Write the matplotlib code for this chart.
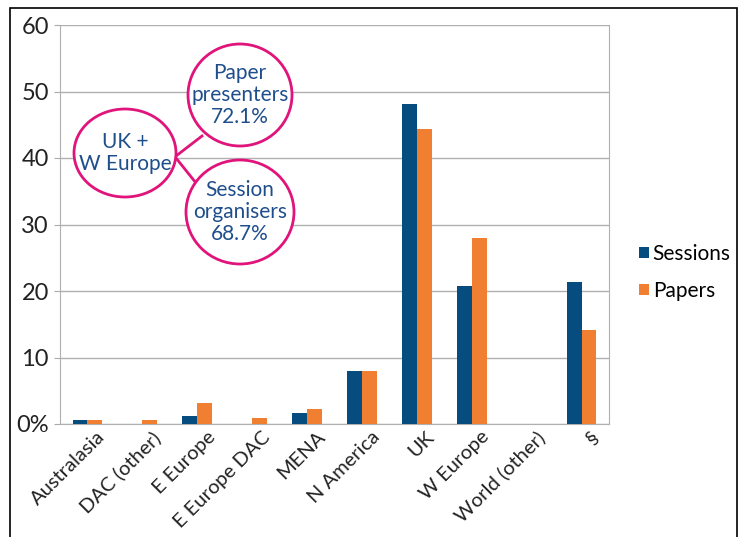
#!/usr/bin/env python3

import matplotlib.pyplot as plt
import matplotlib.transforms as mtransforms
import numpy as np
from matplotlib.patches import Ellipse, Rectangle
from matplotlib.lines import Line2D

regions = ["Australasia", "DAC (other)", "E Europe", "E Europe DAC", "MENA",
           "N America", "UK", "W Europe", "World (other)", "§"]
sessions = [0.6, 0.0, 1.2, 0.0, 1.6, 7.9, 48.1, 20.8, 0.0, 21.3]
papers = [0.6, 0.6, 3.2, 0.85, 2.3, 7.9, 44.4, 27.9, 0.0, 14.2]
y_ticks = [0, 10, 20, 30, 40, 50, 60]
y_tick_labels = ["0%", "10", "20", "30", "40", "50", "60"]

SESSION_COLOR = "#064C7E"
PAPER_COLOR = "#F07F32"
PINK = "#E0147A"
TEXT_BLUE = "#1F4E8C"

plt.rcParams["font.family"] = ["Lato", "DejaVu Sans"]

fig = plt.figure(figsize=(7.38, 5.37), dpi=100)
W, H = 738, 537
ax = fig.add_axes([60 / W, 1 - 424 / H, 549 / W, 399 / H])

x = np.arange(len(regions)) + 0.5
width = 0.27
ax.bar(x - width / 2, sessions, width, color=SESSION_COLOR, label="Sessions", zorder=3)
ax.bar(x + width / 2, papers, width, color=PAPER_COLOR, label="Papers", zorder=3)

ax.set_xlim(0, len(regions))
ax.set_ylim(0, 60)
ax.set_yticks(y_ticks)
ax.set_yticklabels(y_tick_labels, fontsize=17, color="#222222")
ax.set_xticks(x)
ax.set_xticklabels(regions, rotation=45, ha="right", rotation_mode="anchor",
                   fontsize=14.5, color="#222222")
ax.tick_params(axis="x", length=0, pad=3)
ax.tick_params(axis="y", length=4, color="#aaaaaa", pad=4)
shift = mtransforms.ScaledTranslation(9 / 100, 0, fig.dpi_scale_trans)
for label in ax.get_xticklabels():
    label.set_transform(label.get_transform() + shift)
ax.grid(axis="y", color="#b0b0b0", linewidth=1, zorder=0)
for side in ["left", "bottom", "right"]:
    ax.spines[side].set_color("#b0b0b0")
ax.spines["top"].set_visible(False)

ax.legend(loc="center left", bbox_to_anchor=(1.055, 0.38), frameon=False,
          fontsize=15, handlelength=0.45, handleheight=0.45, handletextpad=0.2,
          labelspacing=0.8, borderpad=0, borderaxespad=0)

# outer frame
fig.patches.append(Rectangle((10 / W, -0.01), 727 / W, 1 - 8 / H + 0.01,
                             transform=fig.transFigure, fill=False,
                             edgecolor="black", linewidth=1.2))


def px(xp, yp):
    return (xp / W, 1 - yp / H)


def bubble(cx, cy, w, h, text):
    fig.patches.append(Ellipse(px(cx, cy), w / W, h / H, transform=fig.transFigure,
                               facecolor="white", edgecolor=PINK, linewidth=2,
                               zorder=5))
    fig.text(*px(cx, cy), text, ha="center", va="center", fontsize=15,
             color=TEXT_BLUE, linespacing=1.15, zorder=6)


for (x0, y0), (x1, y1) in [((176, 156), (202, 136)), ((176, 158), (196, 183))]:
    fig.lines.append(Line2D([x0 / W, x1 / W], [1 - y0 / H, 1 - y1 / H],
                            transform=fig.transFigure, color=PINK,
                            linewidth=2, zorder=4))

bubble(125, 153, 102, 88, "UK +\nW Europe")
bubble(240, 95, 104, 102, "Paper\npresenters\n72.1%")
bubble(240, 212, 108, 104, "Session\norganisers\n68.7%")

fig.savefig("out.png", dpi=100)
